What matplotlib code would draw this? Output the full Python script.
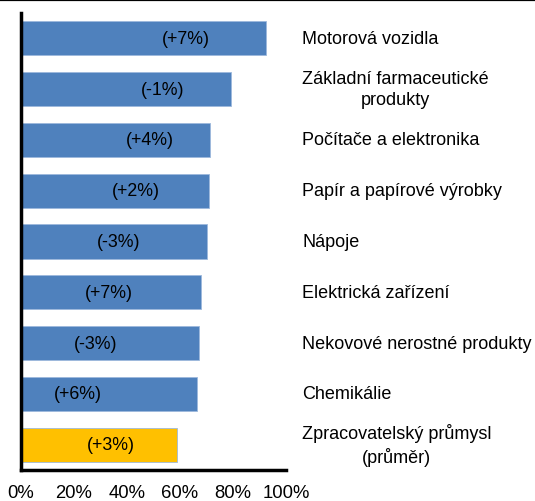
import matplotlib
matplotlib.use("Agg")
import matplotlib.pyplot as plt
from matplotlib.lines import Line2D
from matplotlib.transforms import blended_transform_factory

categories = ["Motorová vozidla", "Základní farmaceutické\nprodukty", "Počítače a elektronika",
              "Papír a papírové výrobky", "Nápoje", "Elektrická zařízení",
              "Nekovové nerostné produkty", "Chemikálie", "Zpracovatelský průmysl\n(průměr)"]
values = [92.3, 79.4, 71.4, 71.1, 70.1, 67.9, 67.2, 66.6, 59.0]
changes = ["(+7%)", "(-1%)", "(+4%)", "(+2%)", "(-3%)", "(+7%)", "(-3%)", "(+6%)", "(+3%)"]
label_pos = [62.1, 53.4, 48.8, 43.3, 37.1, 33.3, 28.2, 21.6, 33.9]
xticks = [0, 20, 40, 60, 80, 100]
xticklabels = ["0%", "20%", "40%", "60%", "80%", "100%"]

plt.rcParams['font.family'] = ['Liberation Sans', 'DejaVu Sans']

fig = plt.figure(figsize=(5.35, 5.02), dpi=100)
ax = fig.add_axes([20.5/535, 1-471/502, (286-20.5)/535, (471-14)/502])

colors = ["#4F81BD"] * 8 + ["#FFC000"]
ypos = list(range(len(values)))
ax.barh(ypos, values, height=0.67, color=colors, edgecolor="#9DB9DC", linewidth=0.6)
for y, lp, t in zip(ypos, label_pos, changes):
    ax.text(lp, y, t, ha="center", va="center", fontsize=12.8, color="black")
trans = blended_transform_factory(fig.transFigure, ax.transData)
for y, c in zip(ypos, categories):
    ax.text(302/535, y, c, transform=trans, ha="left", va="center",
            multialignment="center", fontsize=13, linespacing=1.3, clip_on=False)

ax.set_ylim(8.5, -0.5)
ax.set_xlim(0, 100)
ax.set_xticks(xticks)
ax.set_xticklabels(xticklabels, fontsize=13.3)
ax.set_yticks([])
ax.tick_params(axis="x", length=0, pad=10)
for s in ["top", "right"]:
    ax.spines[s].set_visible(False)
for s in ["left", "bottom"]:
    ax.spines[s].set_linewidth(2.5)
    ax.spines[s].set_color("black")
    ax.spines[s].set_capstyle("projecting")

fig.add_artist(Line2D([0, 1], [1 - 0.8/502, 1 - 0.8/502], color="black", linewidth=1.6,
                      transform=fig.transFigure))
fig.savefig("out.png", dpi=100)
